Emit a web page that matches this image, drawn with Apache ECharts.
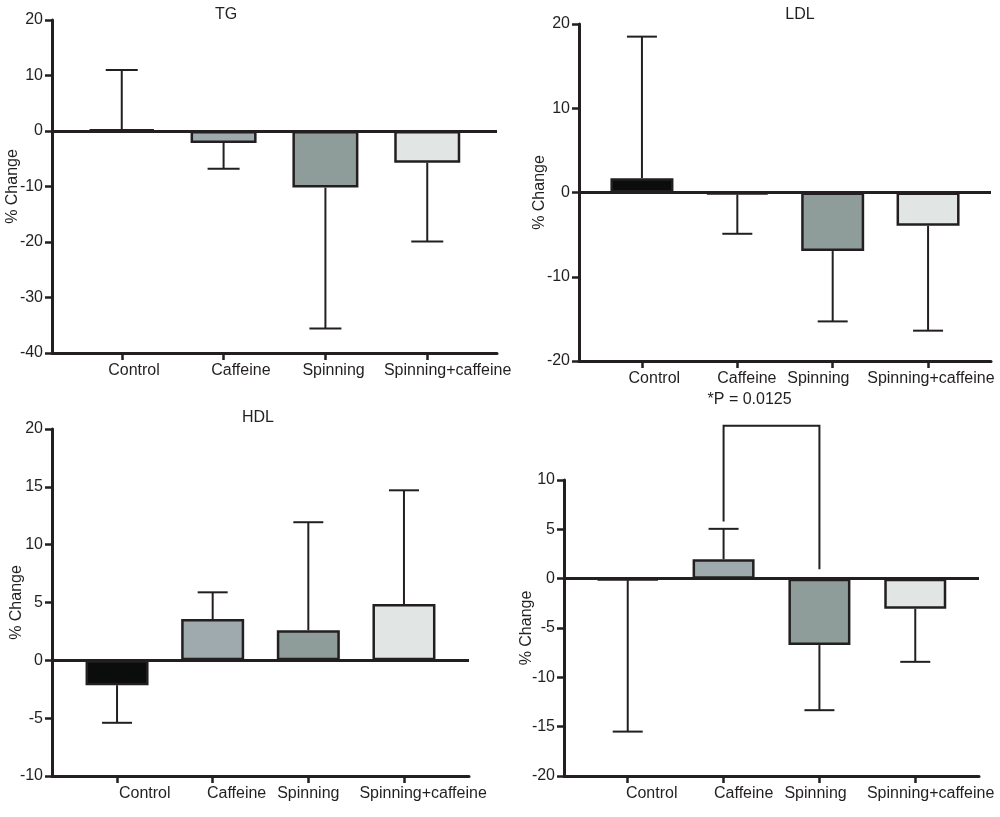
<!DOCTYPE html>
<html>
<head>
<meta charset="utf-8">
<script src="https://cdn.jsdelivr.net/npm/echarts@6/dist/echarts.min.js"></script>
<style>
html, body { margin: 0; padding: 0; background: #fff; }
#chart { width: 1000px; height: 817px; }
</style>
</head>
<body>
<div id="chart"></div>
<script>
// groups and measured % change (mean and one-sided error)
var groups = ['Control', 'Caffeine', 'Spinning', 'Spinning+caffeine'];

var tgMean = [0.3, -2.15, -10.2, -5.7];
var tgErr = [10.7, 4.65, 25.4, 14.2];
var tgTicks = [-40, -30, -20, -10, 0, 10, 20];

var ldlMean = [1.7, -0.25, -6.95, -3.95];
var ldlErr = [16.8, 4.65, 8.35, 12.45];
var ldlTicks = [-20, -10, 0, 10, 20];

var hdlMean = [-2.15, 3.57, 2.6, 4.87];
var hdlErr = [3.25, 2.31, 9.34, 9.83];
var hdlTicks = [-10, -5, 0, 5, 10, 15, 20];

var fourthMean = [-0.15, 1.97, -6.73, -3.05];
var fourthErr = [15.35, 3.08, 6.6, 5.38];
var fourthTicks = [-20, -15, -10, -5, 0, 5, 10];

// significance bracket: Caffeine vs Spinning
var pPair = [1, 2];
var pLevels = [5.8, 15.5, 0.95];
var pLabel = '*P = 0.0125';

var barColors = ['#0b0d0c', '#9eaaad', '#8f9d9a', '#e1e5e4'];
var ink = '#231f20';
var font = '"Liberation Sans", Arial, sans-serif';
var fs = 16;

var panels = [
    { title: 'TG', mean: tgMean, err: tgErr, ticks: tgTicks,
      box: [52, 20, 445, 333], pad: 0.685, barWidth: 66, cap: 16,
      shift: [0.12, 0.17, 0.08, 0.2], titleAt: [226, 15], nameGap: 31 },
    { title: 'LDL', mean: ldlMean, err: ldlErr, ticks: ldlTicks,
      box: [579, 24, 412, 337], pad: 0.66, barWidth: 63, cap: 15,
      shift: [0.13, 0.1, -0.15, 0.03], titleAt: [800, 15], nameGap: 31 },
    { title: 'HDL', mean: hdlMean, err: hdlErr, ticks: hdlTicks,
      box: [52, 429, 417, 347], pad: 0.68, barWidth: 63, cap: 15,
      shift: [0.29, 0.25, 0.0, 0.2], titleAt: [258, 418], nameGap: 27 },
    { title: '', mean: fourthMean, err: fourthErr, ticks: fourthTicks,
      box: [564, 480, 415, 296], pad: 0.665, barWidth: 62, cap: 15,
      shift: [0.25, 0.21, -0.04, 0.16], titleAt: null, nameGap: 29 }
];

function errorBar(cap) {
    return function(params, api) {
        var x = api.value(0);
        var a = api.coord([x, api.value(1)]);
        var b = api.coord([x, api.value(2)]);
        var st = { stroke: ink, lineWidth: 2 };
        return {
            type: 'group',
            children: [
                { type: 'line', shape: { x1: a[0], y1: a[1], x2: b[0], y2: b[1] }, style: st },
                { type: 'line', shape: { x1: b[0] - cap, y1: b[1], x2: b[0] + cap, y2: b[1] }, style: st }
            ]
        };
    };
}

var option = {
    animation: false,
    backgroundColor: '#fff',
    textStyle: { fontFamily: font },
    grid: [], xAxis: [], yAxis: [], series: [], graphic: []
};

panels.forEach(function(p, i) {
    option.grid.push({
        left: p.box[0], top: p.box[1], width: p.box[2], height: p.box[3],
        outerBoundsMode: 'none', containLabel: false
    });
    var idx = groups.map(function(g, k) { return k; });
    option.xAxis.push({
        type: 'value', gridIndex: i,
        min: -p.pad, max: groups.length - 1 + p.pad,
        axisLine: { show: true, onZero: false, lineStyle: { color: ink, width: 3 } },
        axisTick: { show: true, customValues: idx, length: 7, lineStyle: { color: ink, width: 2.5 } },
        axisLabel: {
            customValues: idx.map(function(k) { return k + p.shift[k]; }),
            formatter: function(v) { return groups[Math.round(v)]; },
            margin: 10, fontSize: fs, color: ink, fontFamily: font
        },
        splitLine: { show: false }
    });
    var t = p.ticks;
    option.yAxis.push({
        type: 'value', gridIndex: i,
        min: t[0], max: t[t.length - 1], interval: t[1] - t[0],
        name: '% Change', nameLocation: 'middle', nameGap: p.nameGap,
        nameMoveOverlap: false,
        nameTextStyle: { fontSize: fs, color: ink, fontFamily: font },
        axisLine: { show: true, onZero: false, lineStyle: { color: ink, width: 3 } },
        axisTick: { show: true, length: 7, lineStyle: { color: ink, width: 2.5 } },
        axisLabel: { margin: 9, fontSize: fs, color: ink, fontFamily: font },
        splitLine: { show: false }
    });
    option.series.push({
        type: 'bar', xAxisIndex: i, yAxisIndex: i,
        barWidth: p.barWidth,
        itemStyle: { borderColor: ink, borderWidth: 2.5 },
        data: p.mean.map(function(m, k) {
            return { value: [k, m], itemStyle: { color: barColors[k] } };
        }),
        markLine: {
            silent: true, symbol: 'none', label: { show: false },
            lineStyle: { color: ink, width: 3, type: 'solid' },
            data: [{ yAxis: 0 }]
        },
        z: 2
    });
    option.series.push({
        type: 'custom', xAxisIndex: i, yAxisIndex: i,
        renderItem: errorBar(p.cap),
        data: p.mean.map(function(m, k) {
            var dir = m < 0 ? -1 : 1;
            return [k, m, m + dir * p.err[k]];
        }),
        z: 3
    });
    if (p.titleAt) {
        option.graphic.push({
            type: 'text', x: p.titleAt[0], y: p.titleAt[1],
            style: { text: p.title, fill: ink, font: fs + 'px ' + font, textAlign: 'center', textVerticalAlign: 'middle' }
        });
    }
});

// bracket for the last panel
option.series.push({
    type: 'custom', xAxisIndex: 3, yAxisIndex: 3, clip: false,
    data: [[pPair[0], pPair[1], pLevels[0], pLevels[1], pLevels[2]]],
    renderItem: function(params, api) {
        var a = api.coord([api.value(0), api.value(2)]);
        var b = api.coord([api.value(0), api.value(3)]);
        var c = api.coord([api.value(1), api.value(3)]);
        var d = api.coord([api.value(1), api.value(4)]);
        return {
            type: 'group',
            children: [
                { type: 'polyline', shape: { points: [a, b, c, d] }, style: { stroke: ink, lineWidth: 2, fill: null } },
                { type: 'text', x: b[0] + 26, y: b[1] - 26,
                  style: { text: pLabel, fill: ink, font: fs + 'px ' + font, textAlign: 'center', textVerticalAlign: 'middle' } }
            ]
        };
    },
    z: 3
});

var chart = echarts.init(document.getElementById('chart'));
chart.setOption(option);
</script>
</body>
</html>
